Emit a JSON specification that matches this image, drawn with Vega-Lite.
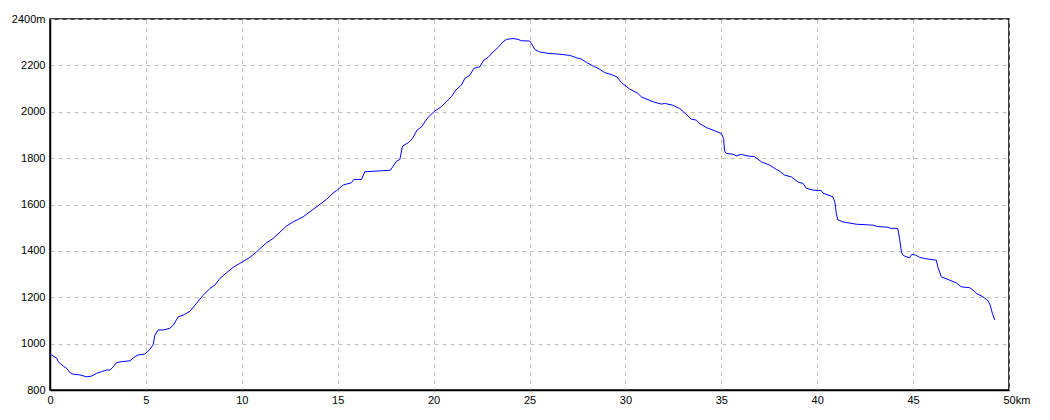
{
  "$schema": "https://vega.github.io/schema/vega-lite/v6.json",
  "autosize": {"type": "none"},
  "padding": {"left": 50, "top": 19, "right": 41, "bottom": 30},
  "width": 959,
  "height": 371,
  "background": "white",
  "config": {
    "view": {"stroke": "black", "strokeWidth": 1.5},
    "axis": {
      "labelFont": "Liberation Sans",
      "labelFontSize": 11,
      "labelColor": "black",
      "grid": true,
      "gridColor": "#c0c0c0",
      "gridDash": [4, 4],
      "gridWidth": 1,
      "ticks": false,
      "domainColor": "black",
      "domainWidth": 1.5,
      "title": null
    }
  },
  "data": {
    "values": [
      {"km": 0, "m": 955}, {"km": 0.35, "m": 937}, {"km": 0.43, "m": 922}, {"km": 0.69, "m": 903},
      {"km": 0.87, "m": 893}, {"km": 1.04, "m": 875}, {"km": 1.22, "m": 868}, {"km": 1.56, "m": 865},
      {"km": 1.91, "m": 857}, {"km": 2.17, "m": 860}, {"km": 2.43, "m": 872}, {"km": 2.69, "m": 879},
      {"km": 2.95, "m": 886}, {"km": 3.13, "m": 886}, {"km": 3.30, "m": 900}, {"km": 3.47, "m": 918},
      {"km": 3.73, "m": 922}, {"km": 4.17, "m": 926}, {"km": 4.43, "m": 944}, {"km": 4.60, "m": 951},
      {"km": 4.95, "m": 955}, {"km": 5.21, "m": 975}, {"km": 5.38, "m": 997}, {"km": 5.47, "m": 1037},
      {"km": 5.64, "m": 1059}, {"km": 5.91, "m": 1059}, {"km": 6.25, "m": 1066}, {"km": 6.43, "m": 1080},
      {"km": 6.69, "m": 1116}, {"km": 6.95, "m": 1123}, {"km": 7.30, "m": 1140}, {"km": 7.64, "m": 1174},
      {"km": 7.99, "m": 1209}, {"km": 8.34, "m": 1238}, {"km": 8.60, "m": 1253}, {"km": 8.86, "m": 1281},
      {"km": 9.21, "m": 1306}, {"km": 9.55, "m": 1329}, {"km": 9.90, "m": 1346}, {"km": 10.42, "m": 1372},
      {"km": 10.77, "m": 1396}, {"km": 11.29, "m": 1435}, {"km": 11.64, "m": 1454}, {"km": 12.33, "m": 1507},
      {"km": 12.68, "m": 1525}, {"km": 13.20, "m": 1547}, {"km": 13.72, "m": 1579}, {"km": 14.42, "m": 1622},
      {"km": 14.76, "m": 1650}, {"km": 14.94, "m": 1660}, {"km": 15.29, "m": 1684}, {"km": 15.72, "m": 1694},
      {"km": 15.84, "m": 1708}, {"km": 16.24, "m": 1708}, {"km": 16.41, "m": 1741}, {"km": 17.20, "m": 1745},
      {"km": 17.75, "m": 1748}, {"km": 18.07, "m": 1787}, {"km": 18.24, "m": 1794}, {"km": 18.38, "m": 1852},
      {"km": 18.67, "m": 1866}, {"km": 18.90, "m": 1885}, {"km": 19.14, "m": 1921}, {"km": 19.37, "m": 1935},
      {"km": 19.71, "m": 1976}, {"km": 20.06, "m": 2003}, {"km": 20.41, "m": 2022}, {"km": 20.67, "m": 2043},
      {"km": 20.93, "m": 2065}, {"km": 21.16, "m": 2094}, {"km": 21.45, "m": 2115}, {"km": 21.63, "m": 2144},
      {"km": 21.89, "m": 2158}, {"km": 22.10, "m": 2187}, {"km": 22.41, "m": 2194}, {"km": 22.62, "m": 2223},
      {"km": 22.84, "m": 2234}, {"km": 23.10, "m": 2258}, {"km": 23.36, "m": 2277}, {"km": 23.62, "m": 2302},
      {"km": 23.80, "m": 2312}, {"km": 24.14, "m": 2316}, {"km": 24.40, "m": 2312}, {"km": 24.58, "m": 2306},
      {"km": 25.01, "m": 2305}, {"km": 25.10, "m": 2295}, {"km": 25.27, "m": 2269}, {"km": 25.53, "m": 2258},
      {"km": 25.97, "m": 2252}, {"km": 26.58, "m": 2248}, {"km": 27.10, "m": 2243}, {"km": 27.45, "m": 2233},
      {"km": 27.71, "m": 2227}, {"km": 27.97, "m": 2213}, {"km": 28.32, "m": 2197}, {"km": 28.58, "m": 2187},
      {"km": 28.92, "m": 2169}, {"km": 29.35, "m": 2158}, {"km": 29.56, "m": 2150}, {"km": 29.79, "m": 2126},
      {"km": 30.22, "m": 2098}, {"km": 30.66, "m": 2079}, {"km": 30.83, "m": 2064}, {"km": 31.44, "m": 2043},
      {"km": 31.88, "m": 2033}, {"km": 32.05, "m": 2036}, {"km": 32.48, "m": 2028}, {"km": 32.83, "m": 2014},
      {"km": 33.09, "m": 1995}, {"km": 33.44, "m": 1968}, {"km": 33.70, "m": 1964}, {"km": 33.87, "m": 1949},
      {"km": 34.22, "m": 1932}, {"km": 34.65, "m": 1918}, {"km": 35.00, "m": 1906}, {"km": 35.12, "m": 1885},
      {"km": 35.17, "m": 1831}, {"km": 35.26, "m": 1820}, {"km": 35.61, "m": 1817}, {"km": 35.78, "m": 1810},
      {"km": 36.04, "m": 1816}, {"km": 36.39, "m": 1809}, {"km": 36.74, "m": 1806}, {"km": 37.09, "m": 1784},
      {"km": 37.52, "m": 1770}, {"km": 37.87, "m": 1751}, {"km": 38.04, "m": 1744}, {"km": 38.30, "m": 1727},
      {"km": 38.65, "m": 1719}, {"km": 39.00, "m": 1697}, {"km": 39.26, "m": 1691}, {"km": 39.43, "m": 1670},
      {"km": 39.78, "m": 1662}, {"km": 40.21, "m": 1660}, {"km": 40.30, "m": 1649}, {"km": 40.82, "m": 1633},
      {"km": 40.92, "m": 1610}, {"km": 41.00, "m": 1560}, {"km": 41.07, "m": 1535}, {"km": 41.34, "m": 1525},
      {"km": 42.04, "m": 1515}, {"km": 42.90, "m": 1511}, {"km": 43.16, "m": 1505}, {"km": 43.68, "m": 1502},
      {"km": 43.85, "m": 1497}, {"km": 44.20, "m": 1497}, {"km": 44.29, "m": 1454}, {"km": 44.38, "m": 1403},
      {"km": 44.43, "m": 1385}, {"km": 44.55, "m": 1378}, {"km": 44.81, "m": 1370}, {"km": 44.93, "m": 1385},
      {"km": 45.13, "m": 1382}, {"km": 45.34, "m": 1372}, {"km": 45.68, "m": 1366}, {"km": 46.21, "m": 1360},
      {"km": 46.29, "m": 1331}, {"km": 46.47, "m": 1288}, {"km": 46.90, "m": 1274}, {"km": 47.25, "m": 1262},
      {"km": 47.51, "m": 1245}, {"km": 47.95, "m": 1241}, {"km": 48.12, "m": 1231}, {"km": 48.29, "m": 1217},
      {"km": 48.64, "m": 1202}, {"km": 48.90, "m": 1185}, {"km": 49.02, "m": 1166}, {"km": 49.13, "m": 1131},
      {"km": 49.26, "m": 1102}
    ]
  },
  "mark": {"type": "line", "color": "#0000ff", "strokeWidth": 1, "interpolate": "linear"},
  "encoding": {
    "x": {
      "field": "km",
      "type": "quantitative",
      "scale": {"domain": [0, 50], "nice": false},
      "axis": {
        "values": [0, 5, 10, 15, 20, 25, 30, 35, 40, 45, 50],
        "labelExpr": "datum.value == 50 ? '50km' : datum.label",
        "labelAlign": {"condition": {"test": "datum.value == 50", "value": "left"}, "value": "center"},
        "labelOffset": {"condition": {"test": "datum.value == 50", "value": -6}, "value": 0},
        "labelPadding": 4,
        "labelFlush": false,
        "labelOverlap": false
      }
    },
    "y": {
      "field": "m",
      "type": "quantitative",
      "scale": {"domain": [800, 2400], "nice": false, "zero": false},
      "axis": {
        "values": [800, 1000, 1200, 1400, 1600, 1800, 2000, 2200, 2400],
        "labelExpr": "datum.value == 2400 ? '2400m' : datum.value",
        "labelPadding": 5,
        "labelFlush": false,
        "labelOverlap": false
      }
    }
  }
}
